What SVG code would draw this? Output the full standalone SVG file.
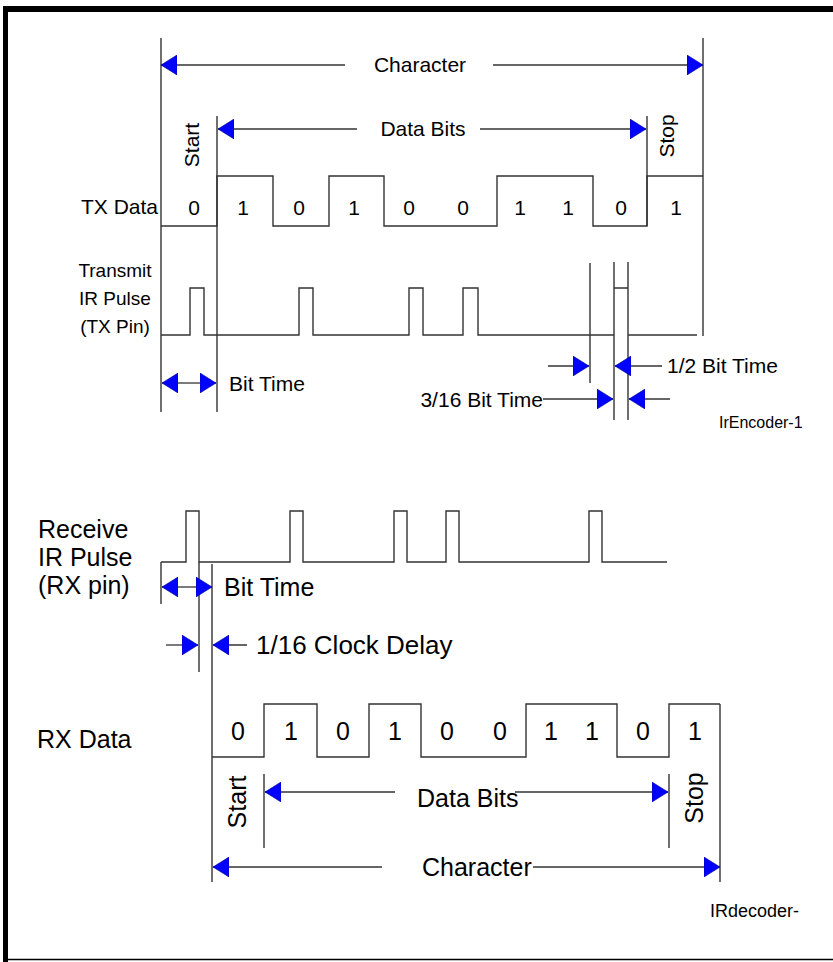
<svg xmlns="http://www.w3.org/2000/svg" width="833" height="962" viewBox="0 0 833 962">
<style>
.ln{stroke:#222;stroke-width:1.3;fill:none}
.wv{stroke:#333;stroke-width:1.4;fill:none}
.ar{stroke:#333;stroke-width:1.3;fill:none;marker-end:url(#ah)}
.t{font-family:"Liberation Sans",Arial,sans-serif;fill:#000}
.s21{font-size:21px}
.s18{font-size:19px}
.s25{font-size:25px}
.s16{font-size:16px}
.m{text-anchor:middle}
</style>
<defs>
<marker id="ah" markerUnits="userSpaceOnUse" viewBox="0 0 16 20" refX="16" refY="10" markerWidth="16" markerHeight="20" orient="auto">
<path d="M0,0 L16,10 L0,20 Z" fill="#0000ff" stroke="#00008b" stroke-width="0.6"/>
</marker>
</defs>
<g id="frame">
<rect x="3" y="6" width="830" height="6" fill="#000"/>
<rect x="3" y="6" width="5" height="956" fill="#000"/>
<line x1="8" y1="959.5" x2="833" y2="959.5" stroke="#000" stroke-width="1.5"/>
</g>
<g id="tx-frame-lines">
<line class="ln" x1="161" y1="38" x2="161" y2="412"/>
<line class="ln" x1="703" y1="38" x2="703" y2="336"/>
<line class="ln" x1="217" y1="116" x2="217" y2="412"/>
<line class="ln" x1="647" y1="116" x2="647" y2="226"/>
<line class="ln" x1="590" y1="263" x2="590" y2="383"/>
<line class="ln" x1="614" y1="262" x2="614" y2="420"/>
<line class="ln" x1="628" y1="262" x2="628" y2="420"/>
</g>
<g id="tx-connectors">
<line class="ar" x1="345" y1="65" x2="161" y2="65"/>
<line class="ar" x1="493" y1="65" x2="703" y2="65"/>
<line class="ar" x1="357" y1="129" x2="218" y2="129"/>
<line class="ar" x1="480" y1="129" x2="646" y2="129"/>
<line class="ar" x1="190" y1="383" x2="162" y2="383"/>
<line class="ar" x1="190" y1="383" x2="216" y2="383"/>
<line class="ar" x1="548" y1="366" x2="589" y2="366"/>
<line class="ar" x1="662" y1="366" x2="615" y2="366"/>
<line class="ar" x1="543" y1="399" x2="613" y2="399"/>
<line class="ar" x1="670" y1="399" x2="629" y2="399"/>
</g>
<g id="tx-data">
<path class="wv" d="M161,226 H217 V176 H273 V226 H329 V176 H384 V226 H497 V176 H593 V226 H647 V176 H703"/>
<text class="t s21" x="81" y="214">TX Data</text>
<g class="t s21 m">
<text x="194" y="215">0</text>
<text x="243" y="215">1</text>
<text x="299" y="215">0</text>
<text x="354" y="215">1</text>
<text x="409" y="215">0</text>
<text x="463" y="215">0</text>
<text x="520" y="215">1</text>
<text x="568" y="215">1</text>
<text x="621" y="215">0</text>
<text x="676" y="215">1</text>
</g>
</g>
<g id="tx-labels">
<text class="t s21 m" x="420" y="72">Character</text>
<text class="t s21 m" x="423" y="136">Data Bits</text>
<text class="t s21 m" transform="translate(199,145) rotate(-90)">Start</text>
<text class="t s21 m" transform="translate(674,136) rotate(-90)">Stop</text>
</g>
<g id="tx-pulse">
<path class="wv" d="M161,335 H190 V288 H204 V335 H299 V288 H313 V335 H409 V288 H423 V335 H463 V288 H478 V335 H614 M614,288 H628 M628,335 H697"/>
<text class="t s18 m" x="115" y="277">Transmit</text>
<text class="t s18 m" x="115" y="305">IR Pulse</text>
<text class="t s18 m" x="115" y="333">(TX Pin)</text>
<text class="t s21" x="229" y="391">Bit Time</text>
<text class="t s21" x="667" y="373">1/2 Bit Time</text>
<text class="t s21" x="543" y="407" text-anchor="end">3/16 Bit Time</text>
<text class="t s16" x="719" y="428">IrEncoder-1</text>
</g>
<g id="rx-frame-lines">
<line class="ln" x1="161" y1="562" x2="161" y2="604"/>
<line class="ln" x1="199" y1="562" x2="199" y2="672"/>
<line class="ln" x1="212" y1="564" x2="212" y2="882"/>
<line class="ln" x1="720" y1="704" x2="720" y2="882"/>
<line class="ln" x1="264" y1="774" x2="264" y2="848"/>
<line class="ln" x1="669" y1="774" x2="669" y2="848"/>
</g>
<g id="rx-connectors">
<line class="ar" x1="186" y1="587" x2="162" y2="587"/>
<line class="ar" x1="186" y1="587" x2="212" y2="587"/>
<line class="ar" x1="166" y1="645" x2="198" y2="645"/>
<line class="ar" x1="247" y1="645" x2="213" y2="645"/>
<line class="ar" x1="395" y1="792" x2="265" y2="792"/>
<line class="ar" x1="515" y1="792" x2="668" y2="792"/>
<line class="ar" x1="382" y1="867" x2="213" y2="867"/>
<line class="ar" x1="533" y1="867" x2="720" y2="867"/>
</g>
<g id="rx-pulse">
<path class="wv" d="M161,562 H186 V511 H199 V562 H290 V511 H303 V562 H394 V511 H407 V562 H446 V511 H459 V562 H589 V511 H602 V562 H667"/>
<text class="t s25" x="38" y="538">Receive</text>
<text class="t s25" x="38" y="566">IR Pulse</text>
<text class="t s25" x="38" y="594">(RX pin)</text>
<text class="t s25" x="224" y="596">Bit Time</text>
<text class="t s25" x="256" y="654" style="font-size:26px">1/16 Clock Delay</text>
</g>
<g id="rx-data">
<path class="wv" d="M212,757 H264 V704 H317 V757 H369 V704 H421 V757 H526 V704 H617 V757 H669 V704 H720"/>
<text class="t s25" x="37" y="748">RX Data</text>
<g class="t s25 m">
<text x="238" y="740">0</text>
<text x="291" y="740">1</text>
<text x="343" y="740">0</text>
<text x="395" y="740">1</text>
<text x="447" y="740">0</text>
<text x="500" y="740">0</text>
<text x="551" y="740">1</text>
<text x="592" y="740">1</text>
<text x="643" y="740">0</text>
<text x="695" y="740">1</text>
</g>
<text class="t s25" x="417" y="807">Data Bits</text>
<text class="t s25" x="422" y="876">Character</text>
<text class="t s25 m" transform="translate(246,802) rotate(-90)">Start</text>
<text class="t s25 m" transform="translate(703,798) rotate(-90)">Stop</text>
<text class="t s16" x="710" y="917" style="font-size:18px">IRdecoder-</text>
</g>
</svg>
